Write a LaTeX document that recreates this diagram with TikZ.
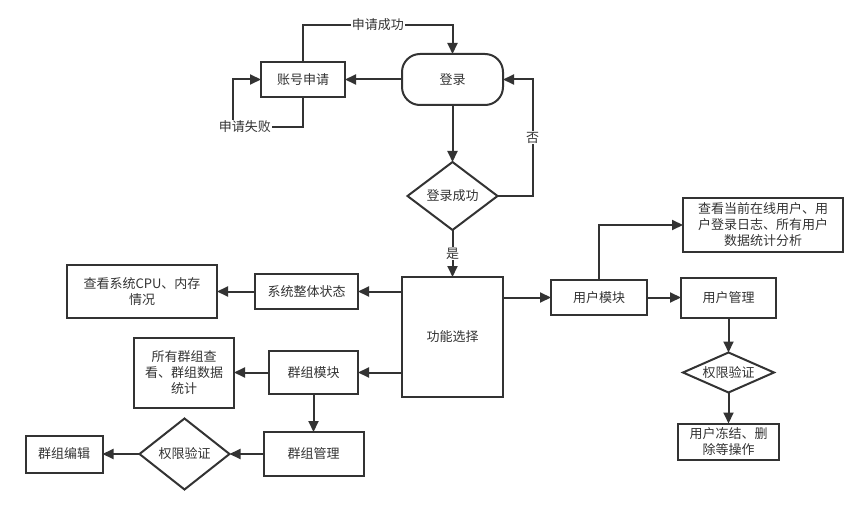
\documentclass[tikz,border=0pt]{standalone}
\usepackage{fontspec}
\setmainfont{Noto Sans CJK SC}
\usepackage{xcolor}
\usepackage{tikz}
\usetikzlibrary{arrows.meta, positioning, shapes.geometric}
\definecolor{ink}{HTML}{333333}

\begin{document}
\begin{tikzpicture}[
  x=1pt, y=1pt,
  every node/.style={font=\fontsize{13}{16}\selectfont, text=ink},
  box/.style={draw=ink, line width=2pt, outer sep=0pt, minimum width=95pt, minimum height=35pt, align=center, inner sep=2pt},
  term/.style={box, rounded corners=18pt, minimum width=101pt, minimum height=51pt},
  decision/.style={diamond, draw=ink, line width=2pt, outer sep=0pt, aspect=2.4, inner sep=0pt, minimum width=90pt, minimum height=40pt},
  lbl/.style={fill=white, inner sep=1pt},
  arr/.style={-{Triangle[length=11pt, width=10pt]}, draw=ink, line width=2pt}
]
  \useasboundingbox (0,0) rectangle (867,-513);

  \node[term] (login) at (452.5,-79.5) {登录};
  \node[box, left=57pt of login, minimum width=84pt] (apply) {账号申请};
  \node[decision, below=57pt of login, minimum height=68pt] (loginok) {登录成功};
  \node[box, below=47pt of loginok, minimum width=101pt, minimum height=120pt] (func) {功能选择};

  \node[box, right=48pt of func.north east, yshift=-20.5pt, minimum width=96pt] (usermod) {用户模块};
  \node[box, right=34pt of usermod, minimum height=40pt] (usermgr) {用户管理};
  \node[box, above=26pt of usermgr.north west, anchor=south west, xshift=2pt, minimum width=160pt, minimum height=53pt] (userinfo) {查看当前在线用户、用\\户登录日志、所有用户\\数据统计分析};
  \node[decision, below=35pt of usermgr, minimum width=91pt] (userauth) {权限验证};
  \node[box, below=31pt of userauth, minimum width=101pt, minimum height=36pt] (userop) {用户冻结、删\\除等操作};

  \node[box, left=44pt of func.north west, yshift=-14.5pt, minimum width=103pt] (sysstate) {系统整体状态};
  \node[box, left=38pt of sysstate, minimum width=150pt, minimum height=53pt] (cpu) {查看系统CPU、内存\\情况};
  \node[box, left=44pt of func.south west, yshift=24.5pt, minimum width=89pt, minimum height=43pt] (groupmod) {群组模块};
  \node[box, left=35pt of groupmod, minimum width=100pt, minimum height=70pt] (groupall) {所有群组查\\看、群组数据\\统计};
  \node[box, below=38pt of groupmod, minimum width=100pt, minimum height=44pt] (groupmgr) {群组管理};
  \node[decision, left=34pt of groupmgr, minimum height=71pt] (groupauth) {权限验证};
  \node[box, left=37pt of groupauth, minimum width=77pt, minimum height=37pt] (groupedit) {群组编辑};

  \draw[arr] (login) -- (apply);
  \draw[arr] (apply.north) -- ++(0,37) -| node[lbl, pos=0.25]{申请成功} (login.north);
  \draw[arr] (apply.south) -- ++(0,-30) -- node[lbl, pos=0.83]{申请失败} ++(-70,0) |- (apply.west);
  \draw[arr] (login) -- (loginok);
  \draw[arr] (loginok.east) -- ++(35,0) |- node[lbl, pos=0.25]{否} (login.east);
  \draw[arr] (loginok) -- node[lbl]{是} (func);

  \draw[arr] (func.east |- usermod) -- (usermod);
  \draw[arr] (usermod) -- (usermgr);
  \draw[arr] (usermod.north) |- (userinfo.west);
  \draw[arr] (usermgr) -- (userauth);
  \draw[arr] (userauth) -- (userop);

  \draw[arr] (func.west |- sysstate) -- (sysstate);
  \draw[arr] (sysstate) -- (cpu);
  \draw[arr] (func.west |- groupmod) -- (groupmod);
  \draw[arr] (groupmod) -- (groupall);
  \draw[arr] (groupmod) -- (groupmgr);
  \draw[arr] (groupmgr) -- (groupauth);
  \draw[arr] (groupauth) -- (groupedit);
\end{tikzpicture}
\end{document}
